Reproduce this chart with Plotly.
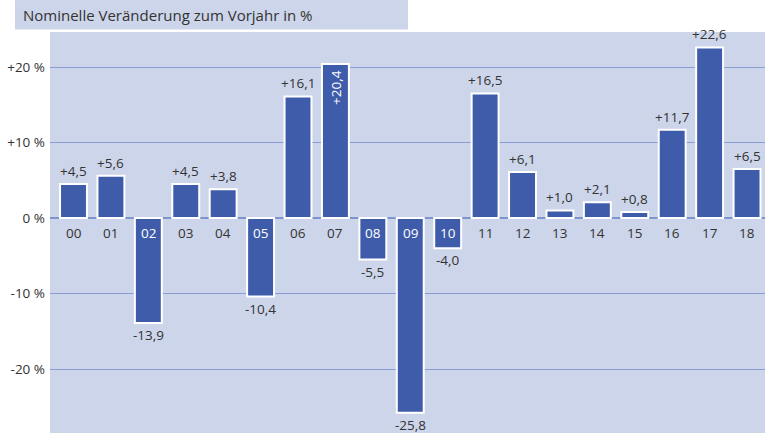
import plotly.graph_objects as go

categories = ["00", "01", "02", "03", "04", "05", "06", "07", "08", "09",
              "10", "11", "12", "13", "14", "15", "16", "17", "18"]
values = [4.5, 5.6, -13.9, 4.5, 3.8, -10.4, 16.1, 20.4, -5.5, -25.8,
          -4.0, 16.5, 6.1, 1.0, 2.1, 0.8, 11.7, 22.6, 6.5]
tick_vals = [20, 10, 0, -10, -20]
tick_text = ["+20 %", "+10 %", "0 %", "-10 %", "-20 %"]
title_text = "Nominelle Veränderung zum Vorjahr in %"

BG = "#cdd5ea"
BAR = "#3e5ca9"
GRID = "#8b9ed4"
TXT = "#333333"
FONT = "Open Sans"

def fmt(v):
    s = f"{abs(v):.1f}".replace(".", ",")
    return ("+" if v > 0 else "-") + s

xs = list(range(len(categories)))

fig = go.Figure()
fig.add_trace(go.Bar(
    x=xs, y=values, width=0.72,
    marker=dict(color=BAR, line=dict(color="white", width=2)),
    hoverinfo="skip",
))

annotations = []
for i, (c, v) in enumerate(zip(categories, values)):
    col = TXT if v >= 0 else "white"
    annotations.append(dict(x=i, y=0, text=c, showarrow=False, yanchor="top",
                            yshift=-4, font=dict(size=13.5, color=col, family=FONT)))
    if c == "07":
        annotations.append(dict(x=i, y=v, text=fmt(v), showarrow=False, yanchor="top",
                                yshift=-4, textangle=-90,
                                font=dict(size=13.5, color="white", family=FONT)))
    elif v >= 0:
        annotations.append(dict(x=i, y=v, text=fmt(v), showarrow=False, yanchor="bottom",
                                yshift=2, font=dict(size=13.5, color=TXT, family=FONT)))
    else:
        annotations.append(dict(x=i, y=v, text=fmt(v), showarrow=False, yanchor="top",
                                yshift=-1, font=dict(size=13.5, color=TXT, family=FONT)))

W, H = 765, 433
L, T = 50, 32
pw, ph = W - L, H - T

annotations.append(dict(xref="paper", yref="paper", x=(21 - L) / pw, y=(H - 15) / ph,
                        xanchor="left", yanchor="middle", text=title_text, showarrow=False,
                        font=dict(size=15, color=TXT, family=FONT)))

shapes = [dict(type="rect", xref="paper", yref="paper",
               x0=(15 - L) / pw, x1=(408 - L) / pw,
               y0=(H - 29.5) / ph, y1=(H + 2) / ph,
               fillcolor=BG, line=dict(width=0), layer="below")]

fig.update_layout(
    width=W, height=H,
    margin=dict(l=L, r=0, t=T, b=0),
    paper_bgcolor="white", plot_bgcolor=BG,
    showlegend=False,
    font=dict(family=FONT, size=13.5, color=TXT),
    xaxis=dict(range=[-0.628, 18.48], showgrid=False, showticklabels=False,
               zeroline=False, showline=False, ticks=""),
    yaxis=dict(range=[-28.47, 24.64], tickvals=tick_vals, ticktext=tick_text,
               showgrid=True, gridcolor=GRID, gridwidth=1,
               zeroline=True, zerolinecolor="#7f93cc", zerolinewidth=2,
               showline=False, ticks="", ticklabelstandoff=4,
               tickfont=dict(size=13.5, color=TXT, family=FONT)),
    annotations=annotations,
    shapes=shapes,
    bargap=0.28,
)

fig.write_html("out.html", config={"displayModeBar": False},
               post_script="document.body.style.margin='0';document.body.style.overflow='hidden';")
